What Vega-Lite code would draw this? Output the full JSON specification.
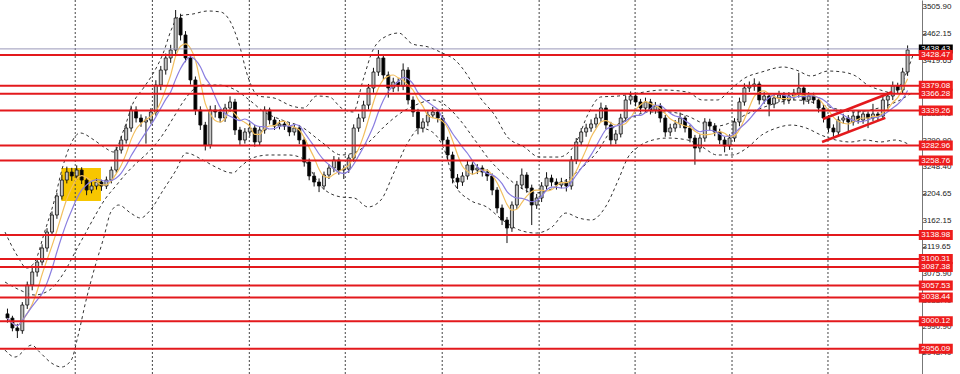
{
  "$schema": "https://vega.github.io/schema/vega-lite/v6.json",
  "width": 922,
  "height": 374,
  "autosize": {"type": "none"},
  "padding": {"left": 0, "top": 0, "right": 38, "bottom": 0},
  "background": "white",
  "config": {
    "view": {"stroke": null},
    "axis": {"grid": false, "title": null},
    "axisY": {"tickSize": 3, "tickColor": "#555", "domainColor": "#777"}
  },
  "datasets": {
    "bars": [
      {"t":0,"o":3012.0,"h":3020.5,"l":2998.0,"c":3005.3},
      {"t":1,"o":3005.3,"h":3009.0,"l":2984.0,"c":2989.3},
      {"t":2,"o":2989.3,"h":2996.0,"l":2973.2,"c":2985.0},
      {"t":3,"o":2985.0,"h":3031.0,"l":2980.0,"c":3026.3},
      {"t":4,"o":3026.3,"h":3064.0,"l":3020.0,"c":3058.5},
      {"t":5,"o":3058.5,"h":3086.0,"l":3050.0,"c":3079.4},
      {"t":6,"o":3079.4,"h":3101.0,"l":3072.0,"c":3095.5},
      {"t":7,"o":3095.5,"h":3124.0,"l":3090.0,"c":3118.0},
      {"t":8,"o":3118.0,"h":3150.0,"l":3112.0,"c":3143.7},
      {"t":9,"o":3143.7,"h":3177.0,"l":3138.0,"c":3171.1},
      {"t":10,"o":3171.1,"h":3207.0,"l":3165.0,"c":3201.7},
      {"t":11,"o":3201.7,"h":3236.0,"l":3196.0,"c":3227.4},
      {"t":12,"o":3227.4,"h":3249.0,"l":3222.0,"c":3240.3},
      {"t":13,"o":3240.3,"h":3247.0,"l":3226.0,"c":3233.9},
      {"t":14,"o":3233.9,"h":3251.0,"l":3228.0,"c":3243.5},
      {"t":15,"o":3243.5,"h":3248.0,"l":3221.0,"c":3227.4},
      {"t":16,"o":3227.4,"h":3231.0,"l":3203.0,"c":3211.3},
      {"t":17,"o":3211.3,"h":3224.0,"l":3206.0,"c":3217.8},
      {"t":18,"o":3217.8,"h":3230.0,"l":3212.0,"c":3224.2},
      {"t":19,"o":3224.2,"h":3228.0,"l":3210.0,"c":3217.8},
      {"t":20,"o":3217.8,"h":3233.0,"l":3213.0,"c":3227.4},
      {"t":21,"o":3227.4,"h":3249.0,"l":3222.0,"c":3243.5},
      {"t":22,"o":3243.5,"h":3281.0,"l":3239.0,"c":3275.7},
      {"t":23,"o":3275.7,"h":3298.0,"l":3270.0,"c":3291.8},
      {"t":24,"o":3291.8,"h":3318.0,"l":3286.0,"c":3311.1},
      {"t":25,"o":3311.1,"h":3347.0,"l":3305.0,"c":3340.1},
      {"t":26,"o":3340.1,"h":3346.0,"l":3320.0,"c":3327.2},
      {"t":27,"o":3327.2,"h":3333.0,"l":3313.0,"c":3320.8},
      {"t":28,"o":3320.8,"h":3330.0,"l":3286.0,"c":3324.0},
      {"t":29,"o":3324.0,"h":3343.0,"l":3318.0,"c":3336.9},
      {"t":30,"o":3336.9,"h":3388.0,"l":3331.0,"c":3380.3},
      {"t":31,"o":3380.3,"h":3411.0,"l":3372.0,"c":3404.4},
      {"t":32,"o":3404.4,"h":3431.0,"l":3397.0,"c":3423.8},
      {"t":33,"o":3423.8,"h":3445.0,"l":3416.0,"c":3436.6},
      {"t":34,"o":3436.6,"h":3501.0,"l":3430.0,"c":3488.1},
      {"t":35,"o":3488.1,"h":3495.0,"l":3452.0,"c":3460.8},
      {"t":36,"o":3460.8,"h":3467.0,"l":3417.0,"c":3423.8},
      {"t":37,"o":3423.8,"h":3430.0,"l":3381.0,"c":3388.4},
      {"t":38,"o":3388.4,"h":3394.0,"l":3332.0,"c":3340.1},
      {"t":39,"o":3340.1,"h":3346.0,"l":3308.0,"c":3315.9},
      {"t":40,"o":3315.9,"h":3321.0,"l":3275.0,"c":3283.8},
      {"t":41,"o":3283.8,"h":3347.0,"l":3278.0,"c":3340.1},
      {"t":42,"o":3340.1,"h":3348.0,"l":3328.0,"c":3336.9},
      {"t":43,"o":3336.9,"h":3342.0,"l":3320.0,"c":3327.2},
      {"t":44,"o":3327.2,"h":3350.0,"l":3321.0,"c":3343.3},
      {"t":45,"o":3343.3,"h":3362.0,"l":3337.0,"c":3353.0},
      {"t":46,"o":3353.0,"h":3358.0,"l":3300.0,"c":3307.9},
      {"t":47,"o":3307.9,"h":3313.0,"l":3284.0,"c":3291.8},
      {"t":48,"o":3291.8,"h":3311.0,"l":3286.0,"c":3304.7},
      {"t":49,"o":3304.7,"h":3320.0,"l":3298.0,"c":3311.1},
      {"t":50,"o":3311.1,"h":3316.0,"l":3281.0,"c":3288.6},
      {"t":51,"o":3288.6,"h":3313.0,"l":3283.0,"c":3307.9},
      {"t":52,"o":3307.9,"h":3346.0,"l":3302.0,"c":3340.1},
      {"t":53,"o":3340.1,"h":3344.0,"l":3317.0,"c":3324.0},
      {"t":54,"o":3324.0,"h":3329.0,"l":3308.0,"c":3314.3},
      {"t":55,"o":3314.3,"h":3324.0,"l":3309.0,"c":3317.6},
      {"t":56,"o":3317.6,"h":3322.0,"l":3308.0,"c":3314.3},
      {"t":57,"o":3314.3,"h":3319.0,"l":3298.0,"c":3304.7},
      {"t":58,"o":3304.7,"h":3317.0,"l":3299.0,"c":3311.1},
      {"t":59,"o":3311.1,"h":3316.0,"l":3285.0,"c":3291.8},
      {"t":60,"o":3291.8,"h":3296.0,"l":3249.0,"c":3256.4},
      {"t":61,"o":3256.4,"h":3262.0,"l":3227.0,"c":3233.9},
      {"t":62,"o":3233.9,"h":3240.0,"l":3217.0,"c":3224.2},
      {"t":63,"o":3224.2,"h":3230.0,"l":3208.0,"c":3217.8},
      {"t":64,"o":3217.8,"h":3241.0,"l":3212.0,"c":3235.5},
      {"t":65,"o":3235.5,"h":3253.0,"l":3229.0,"c":3246.7},
      {"t":66,"o":3246.7,"h":3266.0,"l":3240.0,"c":3259.6},
      {"t":67,"o":3259.6,"h":3264.0,"l":3236.0,"c":3243.5},
      {"t":68,"o":3243.5,"h":3251.0,"l":3229.0,"c":3245.0},
      {"t":69,"o":3245.0,"h":3268.0,"l":3239.0,"c":3262.8},
      {"t":70,"o":3262.8,"h":3317.0,"l":3257.0,"c":3311.1},
      {"t":71,"o":3311.1,"h":3334.0,"l":3305.0,"c":3327.2},
      {"t":72,"o":3327.2,"h":3355.0,"l":3321.0,"c":3348.1},
      {"t":73,"o":3348.1,"h":3382.0,"l":3341.0,"c":3375.5},
      {"t":74,"o":3375.5,"h":3408.0,"l":3368.0,"c":3401.2},
      {"t":75,"o":3401.2,"h":3436.6,"l":3395.0,"c":3423.8},
      {"t":76,"o":3423.8,"h":3429.0,"l":3389.0,"c":3396.4},
      {"t":77,"o":3396.4,"h":3402.0,"l":3360.0,"c":3375.5},
      {"t":78,"o":3375.5,"h":3392.0,"l":3369.0,"c":3385.1},
      {"t":79,"o":3385.1,"h":3391.0,"l":3370.0,"c":3378.7},
      {"t":80,"o":3378.7,"h":3415.0,"l":3372.0,"c":3404.4},
      {"t":81,"o":3404.4,"h":3409.0,"l":3349.0,"c":3356.2},
      {"t":82,"o":3356.2,"h":3362.0,"l":3329.0,"c":3336.9},
      {"t":83,"o":3336.9,"h":3342.0,"l":3301.0,"c":3311.1},
      {"t":84,"o":3311.1,"h":3327.0,"l":3304.0,"c":3320.8},
      {"t":85,"o":3320.8,"h":3338.0,"l":3314.0,"c":3332.0},
      {"t":86,"o":3332.0,"h":3345.0,"l":3327.0,"c":3336.9},
      {"t":87,"o":3336.9,"h":3342.0,"l":3320.0,"c":3327.2},
      {"t":88,"o":3327.2,"h":3332.0,"l":3284.0,"c":3291.8},
      {"t":89,"o":3291.8,"h":3297.0,"l":3259.0,"c":3267.7},
      {"t":90,"o":3267.7,"h":3273.0,"l":3222.0,"c":3230.6},
      {"t":91,"o":3230.6,"h":3237.0,"l":3213.0,"c":3224.2},
      {"t":92,"o":3224.2,"h":3240.0,"l":3218.0,"c":3233.9},
      {"t":93,"o":3233.9,"h":3258.0,"l":3228.0,"c":3251.6},
      {"t":94,"o":3251.6,"h":3256.0,"l":3236.0,"c":3243.5},
      {"t":95,"o":3243.5,"h":3253.0,"l":3237.0,"c":3246.7},
      {"t":96,"o":3246.7,"h":3251.0,"l":3233.0,"c":3240.3},
      {"t":97,"o":3240.3,"h":3245.0,"l":3226.0,"c":3233.9},
      {"t":98,"o":3233.9,"h":3238.0,"l":3203.0,"c":3211.3},
      {"t":99,"o":3211.3,"h":3216.0,"l":3174.0,"c":3182.4},
      {"t":100,"o":3182.4,"h":3188.0,"l":3155.0,"c":3163.1},
      {"t":101,"o":3163.1,"h":3168.0,"l":3126.0,"c":3150.2},
      {"t":102,"o":3150.2,"h":3193.0,"l":3144.0,"c":3187.2},
      {"t":103,"o":3187.2,"h":3226.0,"l":3181.0,"c":3219.4},
      {"t":104,"o":3219.4,"h":3246.0,"l":3213.0,"c":3235.5},
      {"t":105,"o":3235.5,"h":3240.0,"l":3207.0,"c":3214.6},
      {"t":106,"o":3214.6,"h":3220.0,"l":3155.0,"c":3187.2},
      {"t":107,"o":3187.2,"h":3205.0,"l":3181.0,"c":3198.5},
      {"t":108,"o":3198.5,"h":3224.0,"l":3192.0,"c":3217.8},
      {"t":109,"o":3217.8,"h":3240.0,"l":3212.0,"c":3230.6},
      {"t":110,"o":3230.6,"h":3236.0,"l":3217.0,"c":3224.2},
      {"t":111,"o":3224.2,"h":3230.0,"l":3212.0,"c":3219.4},
      {"t":112,"o":3219.4,"h":3231.0,"l":3214.0,"c":3224.2},
      {"t":113,"o":3224.2,"h":3229.0,"l":3209.0,"c":3217.8},
      {"t":114,"o":3217.8,"h":3266.0,"l":3212.0,"c":3259.6},
      {"t":115,"o":3259.6,"h":3295.0,"l":3253.0,"c":3288.6},
      {"t":116,"o":3288.6,"h":3311.0,"l":3282.0,"c":3304.7},
      {"t":117,"o":3304.7,"h":3318.0,"l":3297.0,"c":3311.1},
      {"t":118,"o":3311.1,"h":3325.0,"l":3305.0,"c":3317.6},
      {"t":119,"o":3317.6,"h":3334.0,"l":3311.0,"c":3327.2},
      {"t":120,"o":3327.2,"h":3352.0,"l":3321.0,"c":3343.3},
      {"t":121,"o":3343.3,"h":3348.0,"l":3309.0,"c":3315.9},
      {"t":122,"o":3315.9,"h":3321.0,"l":3284.0,"c":3291.8},
      {"t":123,"o":3291.8,"h":3308.0,"l":3285.0,"c":3301.5},
      {"t":124,"o":3301.5,"h":3334.0,"l":3296.0,"c":3327.2},
      {"t":125,"o":3327.2,"h":3363.0,"l":3321.0,"c":3356.2},
      {"t":126,"o":3356.2,"h":3370.0,"l":3349.0,"c":3362.6},
      {"t":127,"o":3362.6,"h":3368.0,"l":3346.0,"c":3353.0},
      {"t":128,"o":3353.0,"h":3358.0,"l":3336.0,"c":3343.3},
      {"t":129,"o":3343.3,"h":3360.0,"l":3337.0,"c":3353.0},
      {"t":130,"o":3353.0,"h":3358.0,"l":3333.0,"c":3340.1},
      {"t":131,"o":3340.1,"h":3353.0,"l":3334.0,"c":3346.5},
      {"t":132,"o":3346.5,"h":3351.0,"l":3320.0,"c":3327.2},
      {"t":133,"o":3327.2,"h":3332.0,"l":3297.0,"c":3304.7},
      {"t":134,"o":3304.7,"h":3318.0,"l":3298.0,"c":3311.1},
      {"t":135,"o":3311.1,"h":3324.0,"l":3305.0,"c":3317.6},
      {"t":136,"o":3317.6,"h":3336.0,"l":3311.0,"c":3327.2},
      {"t":137,"o":3327.2,"h":3331.0,"l":3304.0,"c":3311.1},
      {"t":138,"o":3311.1,"h":3316.0,"l":3288.0,"c":3295.0},
      {"t":139,"o":3295.0,"h":3300.0,"l":3252.0,"c":3278.9},
      {"t":140,"o":3278.9,"h":3301.0,"l":3272.0,"c":3295.0},
      {"t":141,"o":3295.0,"h":3327.0,"l":3289.0,"c":3320.8},
      {"t":142,"o":3320.8,"h":3326.0,"l":3307.0,"c":3314.3},
      {"t":143,"o":3314.3,"h":3319.0,"l":3298.0,"c":3304.7},
      {"t":144,"o":3304.7,"h":3310.0,"l":3285.0,"c":3291.8},
      {"t":145,"o":3291.8,"h":3297.0,"l":3272.0,"c":3282.1},
      {"t":146,"o":3282.1,"h":3301.0,"l":3276.0,"c":3295.0},
      {"t":147,"o":3295.0,"h":3327.0,"l":3289.0,"c":3320.8},
      {"t":148,"o":3320.8,"h":3360.0,"l":3314.0,"c":3353.0},
      {"t":149,"o":3353.0,"h":3383.0,"l":3347.0,"c":3375.5},
      {"t":150,"o":3375.5,"h":3386.0,"l":3369.0,"c":3378.7},
      {"t":151,"o":3378.7,"h":3391.0,"l":3371.0,"c":3381.9},
      {"t":152,"o":3381.9,"h":3386.0,"l":3349.0,"c":3356.2},
      {"t":153,"o":3356.2,"h":3369.0,"l":3350.0,"c":3362.6},
      {"t":154,"o":3362.6,"h":3367.0,"l":3330.0,"c":3349.7},
      {"t":155,"o":3349.7,"h":3366.0,"l":3343.0,"c":3359.4},
      {"t":156,"o":3359.4,"h":3371.0,"l":3353.0,"c":3364.2},
      {"t":157,"o":3364.2,"h":3369.0,"l":3349.0,"c":3356.2},
      {"t":158,"o":3356.2,"h":3369.0,"l":3350.0,"c":3362.6},
      {"t":159,"o":3362.6,"h":3374.0,"l":3356.0,"c":3367.4},
      {"t":160,"o":3367.4,"h":3400.0,"l":3360.0,"c":3375.5},
      {"t":161,"o":3375.5,"h":3380.0,"l":3349.0,"c":3356.2},
      {"t":162,"o":3356.2,"h":3369.0,"l":3350.0,"c":3362.6},
      {"t":163,"o":3362.6,"h":3368.0,"l":3350.0,"c":3356.2},
      {"t":164,"o":3356.2,"h":3361.0,"l":3336.0,"c":3343.3},
      {"t":165,"o":3343.3,"h":3348.0,"l":3320.0,"c":3327.2},
      {"t":166,"o":3327.2,"h":3332.0,"l":3304.0,"c":3311.1},
      {"t":167,"o":3311.1,"h":3317.0,"l":3297.0,"c":3304.7},
      {"t":168,"o":3304.7,"h":3330.0,"l":3299.0,"c":3324.0},
      {"t":169,"o":3324.0,"h":3334.0,"l":3318.0,"c":3327.2},
      {"t":170,"o":3327.2,"h":3332.0,"l":3304.0,"c":3320.8},
      {"t":171,"o":3320.8,"h":3337.0,"l":3315.0,"c":3330.4},
      {"t":172,"o":3330.4,"h":3340.0,"l":3318.0,"c":3324.0},
      {"t":173,"o":3324.0,"h":3340.0,"l":3318.0,"c":3333.6},
      {"t":174,"o":3333.6,"h":3338.0,"l":3311.0,"c":3327.2},
      {"t":175,"o":3327.2,"h":3350.0,"l":3322.0,"c":3333.6},
      {"t":176,"o":3333.6,"h":3337.0,"l":3324.0,"c":3330.4},
      {"t":177,"o":3330.4,"h":3363.0,"l":3325.0,"c":3356.2},
      {"t":178,"o":3356.2,"h":3369.0,"l":3340.0,"c":3362.6},
      {"t":179,"o":3362.6,"h":3386.0,"l":3356.0,"c":3378.7},
      {"t":180,"o":3378.7,"h":3384.0,"l":3366.0,"c":3372.3},
      {"t":181,"o":3372.3,"h":3408.0,"l":3366.0,"c":3401.2},
      {"t":182,"o":3401.2,"h":3444.0,"l":3395.0,"c":3436.6}
    ],
    "bands": [
      {"s":"upper","t":-0.5,"p":3143.7},{"s":"upper","t":1.9,"p":3106.7},{"s":"upper","t":3.9,"p":3085.8},
      {"s":"upper","t":5.5,"p":3095.5},{"s":"upper","t":7.5,"p":3143.7},{"s":"upper","t":9.5,"p":3195.2},
      {"s":"upper","t":11.1,"p":3246.7},{"s":"upper","t":12.7,"p":3283.8},{"s":"upper","t":14.7,"p":3303.1},
      {"s":"upper","t":17.5,"p":3291.8},{"s":"upper","t":19.5,"p":3280.5},{"s":"upper","t":21.5,"p":3272.5},
      {"s":"upper","t":23.5,"p":3307.9},{"s":"upper","t":25.5,"p":3353.0},{"s":"upper","t":27.5,"p":3375.5},
      {"s":"upper","t":29.5,"p":3399.6},{"s":"upper","t":31.5,"p":3431.8},{"s":"upper","t":33.1,"p":3468.8},
      {"s":"upper","t":34.7,"p":3491.4},{"s":"upper","t":37.5,"p":3494.6},{"s":"upper","t":40.5,"p":3499.4},
      {"s":"upper","t":43.1,"p":3497.8},{"s":"upper","t":45.1,"p":3481.7},{"s":"upper","t":46.7,"p":3449.5},
      {"s":"upper","t":48.7,"p":3391.6},{"s":"upper","t":50.7,"p":3362.6},{"s":"upper","t":53.9,"p":3359.4},
      {"s":"upper","t":57.5,"p":3346.5},{"s":"upper","t":59.9,"p":3343.3},{"s":"upper","t":62.5,"p":3362.6},
      {"s":"upper","t":65.1,"p":3361.0},{"s":"upper","t":67.5,"p":3343.3},{"s":"upper","t":69.9,"p":3336.9},
      {"s":"upper","t":71.9,"p":3388.4},{"s":"upper","t":73.9,"p":3436.6},{"s":"upper","t":76.7,"p":3459.2},
      {"s":"upper","t":79.1,"p":3464.0},{"s":"upper","t":81.9,"p":3446.3},{"s":"upper","t":85.1,"p":3441.5},
      {"s":"upper","t":87.9,"p":3431.8},{"s":"upper","t":90.5,"p":3420.5},{"s":"upper","t":93.1,"p":3394.8},
      {"s":"upper","t":95.5,"p":3361.0},{"s":"upper","t":98.5,"p":3332.0},{"s":"upper","t":101.1,"p":3296.6},
      {"s":"upper","t":104.5,"p":3280.5},{"s":"upper","t":107.5,"p":3264.4},{"s":"upper","t":111.5,"p":3264.4},
      {"s":"upper","t":114.9,"p":3287.0},{"s":"upper","t":117.5,"p":3335.2},{"s":"upper","t":119.9,"p":3361.0},
      {"s":"upper","t":123.5,"p":3362.6},{"s":"upper","t":127.5,"p":3367.4},{"s":"upper","t":132.5,"p":3372.3},
      {"s":"upper","t":137.5,"p":3369.0},{"s":"upper","t":140.5,"p":3356.2},{"s":"upper","t":143.5,"p":3356.2},
      {"s":"upper","t":146.5,"p":3375.5},{"s":"upper","t":149.1,"p":3391.6},{"s":"upper","t":152.5,"p":3401.2},
      {"s":"upper","t":156.9,"p":3409.3},{"s":"upper","t":159.5,"p":3404.4},{"s":"upper","t":162.5,"p":3394.8},
      {"s":"upper","t":165.9,"p":3402.8},{"s":"upper","t":168.9,"p":3401.2},{"s":"upper","t":171.5,"p":3394.8},
      {"s":"upper","t":173.9,"p":3380.3},{"s":"upper","t":176.5,"p":3372.3},{"s":"upper","t":179.1,"p":3367.4},
      {"s":"upper","t":181.1,"p":3388.4},{"s":"upper","t":183.1,"p":3428.6},

      {"s":"middle","t":-0.5,"p":3063.3},{"s":"middle","t":2.5,"p":3050.4},{"s":"middle","t":5.5,"p":3042.4},
      {"s":"middle","t":8.5,"p":3050.4},{"s":"middle","t":11.5,"p":3079.4},{"s":"middle","t":13.9,"p":3114.8},
      {"s":"middle","t":15.9,"p":3143.7},{"s":"middle","t":17.9,"p":3172.7},{"s":"middle","t":19.9,"p":3198.5},
      {"s":"middle","t":21.9,"p":3217.8},{"s":"middle","t":23.9,"p":3237.1},{"s":"middle","t":26.1,"p":3254.8},
      {"s":"middle","t":28.9,"p":3275.7},{"s":"middle","t":31.5,"p":3301.5},{"s":"middle","t":33.5,"p":3327.2},
      {"s":"middle","t":35.5,"p":3353.0},{"s":"middle","t":37.5,"p":3372.3},{"s":"middle","t":39.5,"p":3380.3},
      {"s":"middle","t":42.5,"p":3380.3},{"s":"middle","t":46.1,"p":3372.3},{"s":"middle","t":48.9,"p":3356.2},
      {"s":"middle","t":51.9,"p":3336.9},{"s":"middle","t":55.5,"p":3324.0},{"s":"middle","t":59.5,"p":3312.7},
      {"s":"middle","t":63.5,"p":3288.6},{"s":"middle","t":67.5,"p":3267.7},{"s":"middle","t":70.5,"p":3272.5},
      {"s":"middle","t":73.5,"p":3291.8},{"s":"middle","t":76.5,"p":3315.9},{"s":"middle","t":79.5,"p":3335.2},
      {"s":"middle","t":82.5,"p":3348.1},{"s":"middle","t":86.1,"p":3356.2},{"s":"middle","t":88.5,"p":3348.1},
      {"s":"middle","t":91.5,"p":3324.0},{"s":"middle","t":94.5,"p":3291.8},{"s":"middle","t":97.5,"p":3259.6},
      {"s":"middle","t":100.5,"p":3235.5},{"s":"middle","t":103.5,"p":3216.2},{"s":"middle","t":106.5,"p":3206.5},
      {"s":"middle","t":109.5,"p":3211.3},{"s":"middle","t":112.9,"p":3227.4},{"s":"middle","t":116.1,"p":3246.7},
      {"s":"middle","t":119.5,"p":3275.7},{"s":"middle","t":122.1,"p":3307.9},{"s":"middle","t":126.1,"p":3327.2},
      {"s":"middle","t":129.5,"p":3336.9},{"s":"middle","t":133.5,"p":3336.9},{"s":"middle","t":137.5,"p":3330.4},
      {"s":"middle","t":140.5,"p":3319.2},{"s":"middle","t":143.5,"p":3314.3},{"s":"middle","t":146.5,"p":3320.8},
      {"s":"middle","t":149.5,"p":3333.6},{"s":"middle","t":152.5,"p":3343.3},{"s":"middle","t":155.5,"p":3351.3},
      {"s":"middle","t":159.5,"p":3356.2},{"s":"middle","t":162.5,"p":3353.0},{"s":"middle","t":165.5,"p":3346.5},
      {"s":"middle","t":168.5,"p":3340.1},{"s":"middle","t":171.5,"p":3336.9},{"s":"middle","t":174.5,"p":3340.1},
      {"s":"middle","t":177.5,"p":3346.5},{"s":"middle","t":180.5,"p":3356.2},{"s":"middle","t":183.1,"p":3369.0},

      {"s":"lower","t":-0.5,"p":2953.8},{"s":"lower","t":1.5,"p":2942.6},{"s":"lower","t":4.9,"p":2961.9},
      {"s":"lower","t":6.5,"p":2950.6},{"s":"lower","t":8.9,"p":2932.9},{"s":"lower","t":10.9,"p":2926.5},
      {"s":"lower","t":12.9,"p":2937.8},{"s":"lower","t":14.3,"p":2978.0},{"s":"lower","t":15.9,"p":3034.3},
      {"s":"lower","t":17.5,"p":3082.6},{"s":"lower","t":19.5,"p":3135.7},{"s":"lower","t":20.9,"p":3175.9},
      {"s":"lower","t":22.5,"p":3187.2},{"s":"lower","t":24.9,"p":3174.3},{"s":"lower","t":26.9,"p":3166.3},
      {"s":"lower","t":28.9,"p":3179.1},{"s":"lower","t":31.5,"p":3211.3},{"s":"lower","t":34.1,"p":3243.5},
      {"s":"lower","t":36.1,"p":3270.9},{"s":"lower","t":39.5,"p":3259.6},{"s":"lower","t":42.1,"p":3248.3},
      {"s":"lower","t":45.5,"p":3238.7},{"s":"lower","t":47.5,"p":3251.6},{"s":"lower","t":49.5,"p":3262.8},
      {"s":"lower","t":52.9,"p":3267.7},{"s":"lower","t":56.9,"p":3267.7},{"s":"lower","t":59.5,"p":3262.8},
      {"s":"lower","t":63.5,"p":3216.2},{"s":"lower","t":67.5,"p":3200.1},{"s":"lower","t":70.1,"p":3198.5},
      {"s":"lower","t":72.9,"p":3184.0},{"s":"lower","t":75.5,"p":3195.2},{"s":"lower","t":78.1,"p":3238.7},
      {"s":"lower","t":80.9,"p":3287.0},{"s":"lower","t":83.5,"p":3311.1},{"s":"lower","t":85.9,"p":3304.7},
      {"s":"lower","t":88.5,"p":3272.5},{"s":"lower","t":90.5,"p":3219.4},{"s":"lower","t":93.5,"p":3195.2},
      {"s":"lower","t":96.9,"p":3184.0},{"s":"lower","t":100.1,"p":3163.1},{"s":"lower","t":103.5,"p":3147.0},
      {"s":"lower","t":106.9,"p":3142.1},{"s":"lower","t":110.1,"p":3151.8},{"s":"lower","t":112.9,"p":3174.3},
      {"s":"lower","t":115.5,"p":3166.3},{"s":"lower","t":118.1,"p":3163.1},{"s":"lower","t":120.9,"p":3184.0},
      {"s":"lower","t":123.5,"p":3227.4},{"s":"lower","t":125.5,"p":3264.4},{"s":"lower","t":127.5,"p":3280.5},
      {"s":"lower","t":130.5,"p":3291.8},{"s":"lower","t":133.5,"p":3295.0},{"s":"lower","t":137.5,"p":3291.8},
      {"s":"lower","t":140.5,"p":3280.5},{"s":"lower","t":143.5,"p":3267.7},{"s":"lower","t":146.5,"p":3267.7},
      {"s":"lower","t":149.5,"p":3278.9},{"s":"lower","t":152.5,"p":3299.8},{"s":"lower","t":155.5,"p":3311.1},
      {"s":"lower","t":158.5,"p":3315.9},{"s":"lower","t":161.5,"p":3311.1},{"s":"lower","t":164.5,"p":3299.8},
      {"s":"lower","t":167.5,"p":3291.8},{"s":"lower","t":170.5,"p":3288.6},{"s":"lower","t":173.5,"p":3291.8},
      {"s":"lower","t":176.5,"p":3288.6},{"s":"lower","t":179.5,"p":3291.8},{"s":"lower","t":182.5,"p":3283.8}
    ],
    "levels": [
      {"p":3428.47},{"p":3379.08},{"p":3366.28},{"p":3339.26},{"p":3282.96},{"p":3258.76},{"p":3138.98},
      {"p":3100.31},{"p":3087.38},{"p":3057.53},{"p":3038.44},{"p":3000.12},{"p":2956.09}
    ],
    "bid": [{"p":3438.43}],
    "priceTicks": [
      {"v":2948.40},{"v":2990.90},{"v":3033.40},{"v":3075.90},{"v":3119.65},{"v":3162.15},{"v":3204.65},
      {"v":3248.40},{"v":3290.90},{"v":3333.40},{"v":3377.15},{"v":3419.65},{"v":3462.15},{"v":3505.90}
    ],
    "sessions": [
      {"t":13.7},{"t":29.3},{"t":48.9},{"t":68.3},{"t":87.9},{"t":107.5},{"t":126.9},{"t":146.5},{"t":165.9}
    ],
    "zone": [{"t0":10.9,"t1":18.9,"p0":3246.8,"p1":3193.7}],
    "channel": [
      {"line":"top","t":164.9,"p":3325.6},{"line":"top","t":178.9,"p":3369.1},
      {"line":"bottom","t":164.7,"p":3288.6},{"line":"bottom","t":177.5,"p":3327.3}
    ]
  },
  "layer": [
    {
      "data": {"name": "zone"},
      "mark": {"type": "rect", "color": "#f7c600", "opacity": 1},
      "encoding": {
        "x": {"field": "t0", "type": "quantitative", "scale": {"domain": [-0.5, 183.9], "nice": false, "zero": false}, "axis": null},
        "x2": {"field": "t1"},
        "y": {
          "field": "p0", "type": "quantitative",
          "scale": {"domain": [2915.3, 3517.1], "nice": false, "zero": false},
          "axis": {
            "orient": "right", "title": null, "labels": false,
            "values": [2948.40, 2990.90, 3033.40, 3075.90, 3119.65, 3162.15, 3204.65, 3248.40, 3290.90, 3333.40, 3377.15, 3419.65, 3462.15, 3505.90]
          }
        },
        "y2": {"field": "p1"}
      }
    },
    {
      "data": {"name": "sessions"},
      "mark": {"type": "rule", "color": "#444", "strokeWidth": 1, "strokeDash": [2, 2]},
      "encoding": {"x": {"field": "t", "type": "quantitative", "axis": null}}
    },
    {
      "data": {"name": "bands"},
      "mark": {"type": "line", "color": "#333", "strokeWidth": 1, "strokeDash": [3, 3], "interpolate": "monotone", "clip": true},
      "encoding": {
        "x": {"field": "t", "type": "quantitative", "axis": null},
        "y": {"field": "p", "type": "quantitative"},
        "detail": {"field": "s"}
      }
    },
    {
      "data": {"name": "bars"},
      "mark": {"type": "rule", "color": "#111", "strokeWidth": 1},
      "encoding": {
        "x": {"field": "t", "type": "quantitative", "axis": null},
        "y": {"field": "l", "type": "quantitative"},
        "y2": {"field": "h"}
      }
    },
    {
      "data": {"name": "bars"},
      "mark": {"type": "bar", "size": 3, "stroke": "#111", "strokeWidth": 0.8},
      "encoding": {
        "x": {"field": "t", "type": "quantitative", "axis": null},
        "y": {"field": "o", "type": "quantitative"},
        "y2": {"field": "c"},
        "fill": {"condition": {"test": "datum.c >= datum.o", "value": "#c6c6c6"}, "value": "#000000"}
      }
    },
    {
      "data": {"name": "bars"},
      "transform": [{"window": [{"op": "mean", "field": "c", "as": "fast"}], "sort": [{"field": "t"}], "frame": [-4, 0]}],
      "mark": {"type": "line", "color": "#f2bf5e", "strokeWidth": 1.2, "interpolate": "monotone"},
      "encoding": {
        "x": {"field": "t", "type": "quantitative", "axis": null},
        "y": {"field": "fast", "type": "quantitative"}
      }
    },
    {
      "data": {"name": "bars"},
      "transform": [{"window": [{"op": "mean", "field": "c", "as": "slow"}], "sort": [{"field": "t"}], "frame": [-7, 0]}],
      "mark": {"type": "line", "color": "#8a7ee0", "strokeWidth": 1.2, "interpolate": "monotone"},
      "encoding": {
        "x": {"field": "t", "type": "quantitative", "axis": null},
        "y": {"field": "slow", "type": "quantitative"}
      }
    },
    {
      "data": {"name": "bid"},
      "mark": {"type": "rule", "color": "#9a98b8", "strokeWidth": 1},
      "encoding": {"y": {"field": "p", "type": "quantitative"}}
    },
    {
      "data": {"name": "levels"},
      "mark": {"type": "rule", "color": "#e3191c", "strokeWidth": 2},
      "encoding": {"y": {"field": "p", "type": "quantitative"}}
    },
    {
      "data": {"name": "channel"},
      "mark": {"type": "line", "color": "#e3191c", "strokeWidth": 2.5},
      "encoding": {
        "x": {"field": "t", "type": "quantitative", "axis": null},
        "y": {"field": "p", "type": "quantitative"},
        "detail": {"field": "line"}
      }
    },
    {
      "data": {"name": "priceTicks"},
      "mark": {"type": "text", "font": "Liberation Sans", "fontSize": 8, "color": "#222", "align": "left", "baseline": "middle"},
      "encoding": {
        "x": {"datum": 185.0, "type": "quantitative"},
        "y": {"field": "v", "type": "quantitative"},
        "text": {"field": "v", "type": "quantitative", "format": ".2f"}
      }
    },
    {
      "data": {"name": "bid"},
      "mark": {"type": "tick", "orient": "horizontal", "size": 34, "thickness": 9, "color": "#000000", "opacity": 1},
      "encoding": {
        "x": {"datum": 187.7, "type": "quantitative"},
        "y": {"field": "p", "type": "quantitative"}
      }
    },
    {
      "data": {"name": "bid"},
      "mark": {"type": "text", "font": "Liberation Sans", "fontSize": 8, "color": "white", "align": "center", "baseline": "middle"},
      "encoding": {
        "x": {"datum": 187.7, "type": "quantitative"},
        "y": {"field": "p", "type": "quantitative"},
        "text": {"field": "p", "type": "quantitative", "format": ".2f"}
      }
    },
    {
      "data": {"name": "levels"},
      "mark": {"type": "tick", "orient": "horizontal", "size": 34, "thickness": 10, "color": "#ee1c1c", "opacity": 1},
      "encoding": {
        "x": {"datum": 187.7, "type": "quantitative"},
        "y": {"field": "p", "type": "quantitative"}
      }
    },
    {
      "data": {"name": "levels"},
      "mark": {"type": "text", "font": "Liberation Sans", "fontSize": 8, "color": "white", "align": "center", "baseline": "middle"},
      "encoding": {
        "x": {"datum": 187.7, "type": "quantitative"},
        "y": {"field": "p", "type": "quantitative"},
        "text": {"field": "p", "type": "quantitative", "format": ".2f"}
      }
    }
  ]
}
